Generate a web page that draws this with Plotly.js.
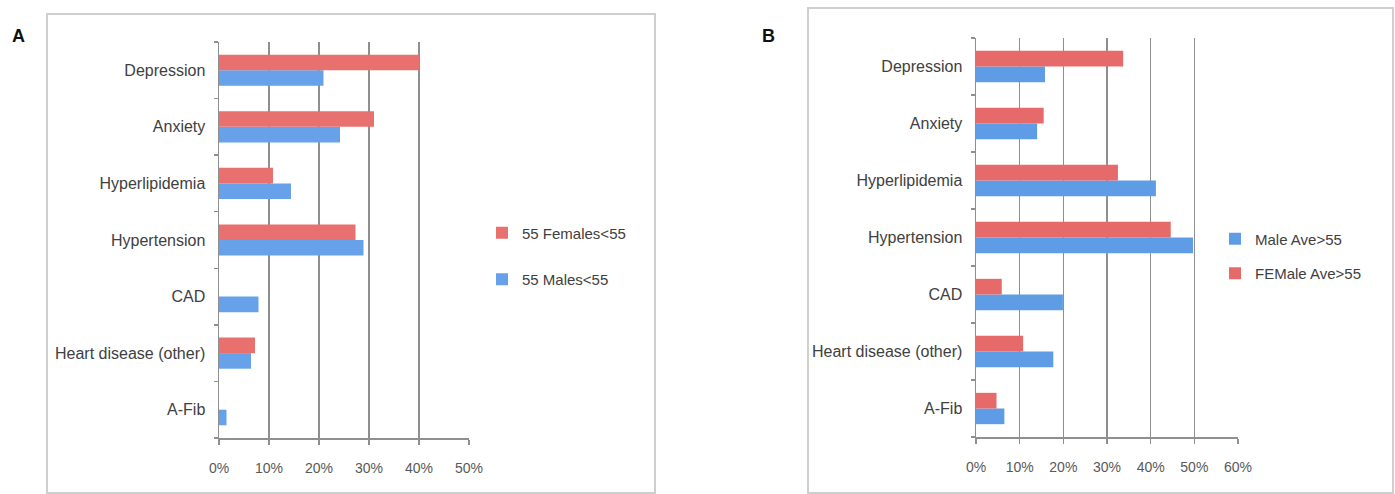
<!DOCTYPE html>
<html>
<head>
<meta charset="utf-8">
<script src="https://cdn.plot.ly/plotly-3.0.1.min.js"></script>
<style>
  html, body { margin: 0; padding: 0; background: #ffffff; }
  #chart { width: 1395px; height: 494px; }
</style>
</head>
<body>
<div id="chart"></div>
<script>
// Categories listed bottom to top
const categories = ['A-Fib', 'Heart disease (other)', 'CAD', 'Hypertension', 'Hyperlipidemia', 'Anxiety', 'Depression'];

// Panel A: under 55
const malesUnder55   = [0.015, 0.064, 0.079, 0.289, 0.144, 0.242, 0.209];
const femalesUnder55 = [0,     0.072, 0,     0.273, 0.108, 0.310, 0.400];

// Panel B: over 55
const maleOver55   = [0.065, 0.177, 0.199, 0.497, 0.412, 0.140, 0.158];
const femaleOver55 = [0.047, 0.108, 0.059, 0.446, 0.325, 0.155, 0.337];

const ticksA = [0, 0.1, 0.2, 0.3, 0.4, 0.5];
const ticksB = [0, 0.1, 0.2, 0.3, 0.4, 0.5, 0.6];

const W = 1395, H = 494;
const px = v => v / W;          // pixel x -> paper
const py = v => 1 - v / H;      // pixel y (from top) -> paper

const FONT = 'Liberation Sans Narrow, Arial Narrow, Liberation Sans, Arial, sans-serif';
const RED = '#E8706E', BLUE = '#66A1EA';
const RED_B = '#E66A6A', BLUE_B = '#5F9CE6';

const traces = [
  { type: 'bar', orientation: 'h', name: '55 Males<55', y: categories, x: malesUnder55,
    xaxis: 'x', yaxis: 'y', marker: { color: BLUE }, legend: 'legend', legendgroup: 'am', legendrank: 2 },
  { type: 'bar', orientation: 'h', name: '55 Females<55', y: categories, x: femalesUnder55,
    xaxis: 'x', yaxis: 'y', marker: { color: RED }, legend: 'legend', legendgroup: 'af', legendrank: 1 },
  { type: 'bar', orientation: 'h', name: 'Male Ave>55', y: categories, x: maleOver55,
    xaxis: 'x2', yaxis: 'y2', marker: { color: BLUE_B }, legend: 'legend2', legendgroup: 'bm', legendrank: 1 },
  { type: 'bar', orientation: 'h', name: 'FEMale Ave>55', y: categories, x: femaleOver55,
    xaxis: 'x2', yaxis: 'y2', marker: { color: RED_B }, legend: 'legend2', legendgroup: 'bf', legendrank: 2 }
];
traces.forEach(t => { t.hoverinfo = 'skip'; });

function xAxis(domain, ticks, anchor) {
  return {
    domain: domain, anchor: anchor,
    range: [0, ticks[ticks.length - 1]],
    tickvals: ticks, tickformat: '.0%',
    showgrid: true, gridcolor: '#8f8f8f', gridwidth: 1.5,
    zeroline: false,
    showline: true, linecolor: '#8f8f8f', linewidth: 1.5,
    ticks: 'outside', ticklen: 5, tickcolor: '#8f8f8f', tickwidth: 1.5,
    ticklabelstandoff: 12,
    tickfont: { family: FONT, size: 14, color: '#595959' },
    fixedrange: true
  };
}
function yAxis(domain, anchor) {
  return {
    domain: domain, anchor: anchor,
    type: 'category', categoryorder: 'array', categoryarray: categories,
    showgrid: false, zeroline: false,
    showline: true, linecolor: '#8f8f8f', linewidth: 1.5,
    ticks: 'outside', tickson: 'boundaries', ticklen: 4, tickcolor: '#8f8f8f', tickwidth: 1.5,
    ticklabelstandoff: 9,
    tickfont: { family: FONT, size: 16, color: '#404040' },
    fixedrange: true
  };
}

const layout = {
  width: W, height: H,
  margin: { l: 0, r: 0, t: 0, b: 0 },
  paper_bgcolor: '#ffffff', plot_bgcolor: 'rgba(0,0,0,0)',
  barmode: 'group', bargap: 0.45, bargroupgap: 0,
  showlegend: true,
  xaxis:  xAxis([px(219), px(469)], ticksA, 'y'),
  yaxis:  yAxis([py(438), py(42)], 'x'),
  xaxis2: xAxis([px(976), px(1238)], ticksB, 'y2'),
  yaxis2: yAxis([py(437), py(38)], 'x2'),
  legend: {
    x: px(482), y: py(256), xanchor: 'left', yanchor: 'middle',
    traceorder: 'grouped', tracegroupgap: 24,
    bgcolor: 'rgba(255,255,255,0)', itemwidth: 30,
    font: { family: FONT, size: 15, color: '#404040' }
  },
  legend2: {
    x: px(1205), y: py(256), xanchor: 'left', yanchor: 'middle',
    traceorder: 'grouped', tracegroupgap: 12,
    bgcolor: '#ffffff', bordercolor: '#ffffff', borderwidth: 10, itemwidth: 30,
    font: { family: FONT, size: 15, color: '#404040' }
  },
  shapes: [
    { type: 'rect', xref: 'paper', yref: 'paper', x0: px(47), x1: px(655), y0: py(493), y1: py(14),
      line: { color: '#cfcfcf', width: 2 }, fillcolor: 'rgba(0,0,0,0)', layer: 'below' },
    { type: 'rect', xref: 'paper', yref: 'paper', x0: px(808), x1: px(1393), y0: py(493), y1: py(8),
      line: { color: '#cfcfcf', width: 2 }, fillcolor: 'rgba(0,0,0,0)', layer: 'below' }
  ],
  annotations: [
    { text: 'A', xref: 'paper', yref: 'paper', x: px(18), y: py(36), showarrow: false,
      xanchor: 'center', yanchor: 'middle', font: { family: 'Liberation Sans, Arial, sans-serif', size: 18, color: '#111111', weight: 600 } },
    { text: 'B', xref: 'paper', yref: 'paper', x: px(768), y: py(36), showarrow: false,
      xanchor: 'center', yanchor: 'middle', font: { family: 'Liberation Sans, Arial, sans-serif', size: 18, color: '#111111', weight: 600 } }
  ]
};

Plotly.newPlot('chart', traces, layout, { displayModeBar: false, staticPlot: true });
</script>
</body>
</html>
